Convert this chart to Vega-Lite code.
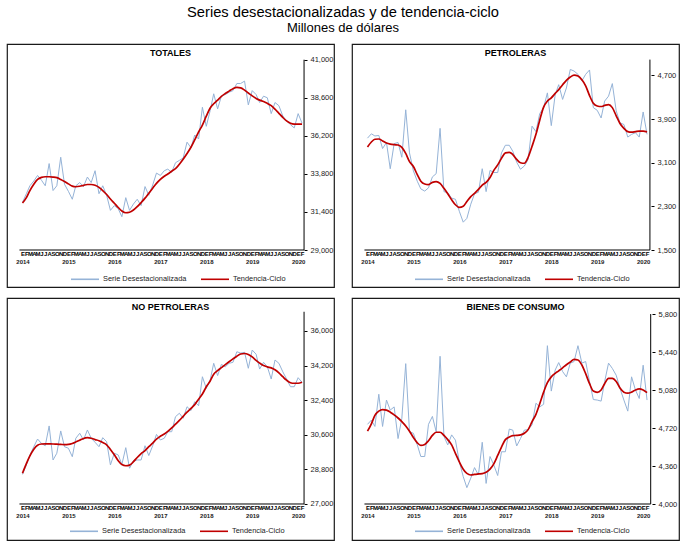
{
  "$schema": "https://vega.github.io/schema/vega-lite/v6.json",
  "padding": {"left": 6, "top": 4, "right": 0, "bottom": 0},
  "title": {
    "text": "Series desestacionalizadas y de tendencia-ciclo",
    "subtitle": "Millones de dólares",
    "font": "Liberation Sans",
    "subtitleFont": "Liberation Sans",
    "fontSize": 14.7,
    "subtitleFontSize": 13,
    "fontWeight": "normal",
    "color": "#000",
    "subtitleColor": "#000",
    "anchor": "middle",
    "subtitlePadding": 3,
    "offset": 8
  },
  "datasets": {
    "totales": [
      {"fecha": "2014-01", "desest": 32000, "tendencia": 31960},
      {"fecha": "2014-02", "desest": 32550, "tendencia": 32300},
      {"fecha": "2014-03", "desest": 33050, "tendencia": 32750},
      {"fecha": "2014-04", "desest": 33350, "tendencia": 33150},
      {"fecha": "2014-05", "desest": 33700, "tendencia": 33450},
      {"fecha": "2014-06", "desest": 33400, "tendencia": 33580},
      {"fecha": "2014-07", "desest": 33050, "tendencia": 33620},
      {"fecha": "2014-08", "desest": 34450, "tendencia": 33620},
      {"fecha": "2014-09", "desest": 32750, "tendencia": 33600},
      {"fecha": "2014-10", "desest": 33050, "tendencia": 33560},
      {"fecha": "2014-11", "desest": 34850, "tendencia": 33450},
      {"fecha": "2014-12", "desest": 33150, "tendencia": 33320},
      {"fecha": "2015-01", "desest": 32700, "tendencia": 33170},
      {"fecha": "2015-02", "desest": 32200, "tendencia": 33030},
      {"fecha": "2015-03", "desest": 33050, "tendencia": 32990},
      {"fecha": "2015-04", "desest": 33250, "tendencia": 33020},
      {"fecha": "2015-05", "desest": 33000, "tendencia": 33080},
      {"fecha": "2015-06", "desest": 33600, "tendencia": 33130},
      {"fecha": "2015-07", "desest": 33250, "tendencia": 33130},
      {"fecha": "2015-08", "desest": 34000, "tendencia": 33080},
      {"fecha": "2015-09", "desest": 32550, "tendencia": 32950},
      {"fecha": "2015-10", "desest": 33050, "tendencia": 32750},
      {"fecha": "2015-11", "desest": 32450, "tendencia": 32500},
      {"fecha": "2015-12", "desest": 31500, "tendencia": 32220},
      {"fecha": "2016-01", "desest": 31800, "tendencia": 31950},
      {"fecha": "2016-02", "desest": 31600, "tendencia": 31680},
      {"fecha": "2016-03", "desest": 31100, "tendencia": 31460},
      {"fecha": "2016-04", "desest": 32300, "tendencia": 31350},
      {"fecha": "2016-05", "desest": 31500, "tendencia": 31380},
      {"fecha": "2016-06", "desest": 31900, "tendencia": 31520},
      {"fecha": "2016-07", "desest": 32200, "tendencia": 31730},
      {"fecha": "2016-08", "desest": 31800, "tendencia": 31990},
      {"fecha": "2016-09", "desest": 33000, "tendencia": 32270},
      {"fecha": "2016-10", "desest": 32450, "tendencia": 32580},
      {"fecha": "2016-11", "desest": 33100, "tendencia": 32900},
      {"fecha": "2016-12", "desest": 33850, "tendencia": 33200},
      {"fecha": "2017-01", "desest": 33700, "tendencia": 33450},
      {"fecha": "2017-02", "desest": 34000, "tendencia": 33650},
      {"fecha": "2017-03", "desest": 34100, "tendencia": 33790},
      {"fecha": "2017-04", "desest": 33900, "tendencia": 33970},
      {"fecha": "2017-05", "desest": 34500, "tendencia": 34130},
      {"fecha": "2017-06", "desest": 34650, "tendencia": 34410},
      {"fecha": "2017-07", "desest": 34800, "tendencia": 34720},
      {"fecha": "2017-08", "desest": 35800, "tendencia": 35080},
      {"fecha": "2017-09", "desest": 35450, "tendencia": 35480},
      {"fecha": "2017-10", "desest": 36250, "tendencia": 35950},
      {"fecha": "2017-11", "desest": 36000, "tendencia": 36450},
      {"fecha": "2017-12", "desest": 38000, "tendencia": 36880},
      {"fecha": "2018-01", "desest": 36800, "tendencia": 37440},
      {"fecha": "2018-02", "desest": 37800, "tendencia": 37950},
      {"fecha": "2018-03", "desest": 38850, "tendencia": 38220},
      {"fecha": "2018-04", "desest": 37900, "tendencia": 38450},
      {"fecha": "2018-05", "desest": 38700, "tendencia": 38690},
      {"fecha": "2018-06", "desest": 38800, "tendencia": 38870},
      {"fecha": "2018-07", "desest": 38950, "tendencia": 39020},
      {"fecha": "2018-08", "desest": 39050, "tendencia": 39170},
      {"fecha": "2018-09", "desest": 39500, "tendencia": 39250},
      {"fecha": "2018-10", "desest": 39500, "tendencia": 39220},
      {"fecha": "2018-11", "desest": 39650, "tendencia": 39080},
      {"fecha": "2018-12", "desest": 38150, "tendencia": 38900},
      {"fecha": "2019-01", "desest": 39050, "tendencia": 38720},
      {"fecha": "2019-02", "desest": 38800, "tendencia": 38560},
      {"fecha": "2019-03", "desest": 38300, "tendencia": 38450},
      {"fecha": "2019-04", "desest": 38700, "tendencia": 38360},
      {"fecha": "2019-05", "desest": 38600, "tendencia": 38250},
      {"fecha": "2019-06", "desest": 37600, "tendencia": 38100},
      {"fecha": "2019-07", "desest": 38300, "tendencia": 37880},
      {"fecha": "2019-08", "desest": 38100, "tendencia": 37620},
      {"fecha": "2019-09", "desest": 37450, "tendencia": 37360},
      {"fecha": "2019-10", "desest": 37150, "tendencia": 37140},
      {"fecha": "2019-11", "desest": 36900, "tendencia": 36990},
      {"fecha": "2019-12", "desest": 36700, "tendencia": 36940},
      {"fecha": "2020-01", "desest": 37600, "tendencia": 36940},
      {"fecha": "2020-02", "desest": 37000, "tendencia": 36940}
    ],
    "petroleras": [
      {"fecha": "2014-01", "desest": 3550, "tendencia": 3390},
      {"fecha": "2014-02", "desest": 3630, "tendencia": 3480},
      {"fecha": "2014-03", "desest": 3590, "tendencia": 3530},
      {"fecha": "2014-04", "desest": 3600, "tendencia": 3535},
      {"fecha": "2014-05", "desest": 3360, "tendencia": 3500},
      {"fecha": "2014-06", "desest": 3470, "tendencia": 3460},
      {"fecha": "2014-07", "desest": 2990, "tendencia": 3440},
      {"fecha": "2014-08", "desest": 3450, "tendencia": 3430},
      {"fecha": "2014-09", "desest": 3470, "tendencia": 3425},
      {"fecha": "2014-10", "desest": 3200, "tendencia": 3380},
      {"fecha": "2014-11", "desest": 4070, "tendencia": 3270},
      {"fecha": "2014-12", "desest": 3280, "tendencia": 3120},
      {"fecha": "2015-01", "desest": 2950, "tendencia": 3030},
      {"fecha": "2015-02", "desest": 2760, "tendencia": 2880},
      {"fecha": "2015-03", "desest": 2620, "tendencia": 2760},
      {"fecha": "2015-04", "desest": 2580, "tendencia": 2710},
      {"fecha": "2015-05", "desest": 2640, "tendencia": 2700},
      {"fecha": "2015-06", "desest": 2840, "tendencia": 2740},
      {"fecha": "2015-07", "desest": 2900, "tendencia": 2755},
      {"fecha": "2015-08", "desest": 3730, "tendencia": 2720},
      {"fecha": "2015-09", "desest": 2570, "tendencia": 2630},
      {"fecha": "2015-10", "desest": 2550, "tendencia": 2530},
      {"fecha": "2015-11", "desest": 2450, "tendencia": 2420},
      {"fecha": "2015-12", "desest": 2430, "tendencia": 2330},
      {"fecha": "2016-01", "desest": 2210, "tendencia": 2280},
      {"fecha": "2016-02", "desest": 2010, "tendencia": 2300},
      {"fecha": "2016-03", "desest": 2080, "tendencia": 2390},
      {"fecha": "2016-04", "desest": 2340, "tendencia": 2480},
      {"fecha": "2016-05", "desest": 2530, "tendencia": 2540},
      {"fecha": "2016-06", "desest": 2560, "tendencia": 2610},
      {"fecha": "2016-07", "desest": 2990, "tendencia": 2690},
      {"fecha": "2016-08", "desest": 2570, "tendencia": 2740},
      {"fecha": "2016-09", "desest": 2960, "tendencia": 2830},
      {"fecha": "2016-10", "desest": 2920, "tendencia": 2960},
      {"fecha": "2016-11", "desest": 2920, "tendencia": 3060},
      {"fecha": "2016-12", "desest": 3280, "tendencia": 3180},
      {"fecha": "2017-01", "desest": 3420, "tendencia": 3280},
      {"fecha": "2017-02", "desest": 3420, "tendencia": 3290},
      {"fecha": "2017-03", "desest": 3310, "tendencia": 3250},
      {"fecha": "2017-04", "desest": 3110, "tendencia": 3160},
      {"fecha": "2017-05", "desest": 2980, "tendencia": 3100},
      {"fecha": "2017-06", "desest": 3040, "tendencia": 3090},
      {"fecha": "2017-07", "desest": 3160, "tendencia": 3200},
      {"fecha": "2017-08", "desest": 3770, "tendencia": 3400},
      {"fecha": "2017-09", "desest": 3670, "tendencia": 3620},
      {"fecha": "2017-10", "desest": 4000, "tendencia": 3880},
      {"fecha": "2017-11", "desest": 4110, "tendencia": 4120},
      {"fecha": "2017-12", "desest": 4380, "tendencia": 4230},
      {"fecha": "2018-01", "desest": 3780, "tendencia": 4290},
      {"fecha": "2018-02", "desest": 4350, "tendencia": 4370},
      {"fecha": "2018-03", "desest": 4530, "tendencia": 4440},
      {"fecha": "2018-04", "desest": 4260, "tendencia": 4530},
      {"fecha": "2018-05", "desest": 4470, "tendencia": 4610},
      {"fecha": "2018-06", "desest": 4810, "tendencia": 4670},
      {"fecha": "2018-07", "desest": 4780, "tendencia": 4705},
      {"fecha": "2018-08", "desest": 4720, "tendencia": 4690},
      {"fecha": "2018-09", "desest": 4600, "tendencia": 4620},
      {"fecha": "2018-10", "desest": 4720, "tendencia": 4510},
      {"fecha": "2018-11", "desest": 4800, "tendencia": 4330},
      {"fecha": "2018-12", "desest": 4110, "tendencia": 4190},
      {"fecha": "2019-01", "desest": 4060, "tendencia": 4140},
      {"fecha": "2019-02", "desest": 3920, "tendencia": 4130},
      {"fecha": "2019-03", "desest": 4230, "tendencia": 4150},
      {"fecha": "2019-04", "desest": 4320, "tendencia": 4165},
      {"fecha": "2019-05", "desest": 4550, "tendencia": 4110},
      {"fecha": "2019-06", "desest": 4050, "tendencia": 3960},
      {"fecha": "2019-07", "desest": 3830, "tendencia": 3820},
      {"fecha": "2019-08", "desest": 3800, "tendencia": 3730},
      {"fecha": "2019-09", "desest": 3570, "tendencia": 3670},
      {"fecha": "2019-10", "desest": 3620, "tendencia": 3660},
      {"fecha": "2019-11", "desest": 3650, "tendencia": 3670},
      {"fecha": "2019-12", "desest": 3570, "tendencia": 3680},
      {"fecha": "2020-01", "desest": 4030, "tendencia": 3680},
      {"fecha": "2020-02", "desest": 3620, "tendencia": 3665}
    ],
    "nopetroleras": [
      {"fecha": "2014-01", "desest": 28540, "tendencia": 28600},
      {"fecha": "2014-02", "desest": 29030, "tendencia": 29100},
      {"fecha": "2014-03", "desest": 29550, "tendencia": 29500},
      {"fecha": "2014-04", "desest": 29980, "tendencia": 29850},
      {"fecha": "2014-05", "desest": 30380, "tendencia": 30060},
      {"fecha": "2014-06", "desest": 30150, "tendencia": 30120},
      {"fecha": "2014-07", "desest": 30030, "tendencia": 30130},
      {"fecha": "2014-08", "desest": 31060, "tendencia": 30125},
      {"fecha": "2014-09", "desest": 29290, "tendencia": 30120},
      {"fecha": "2014-10", "desest": 29640, "tendencia": 30110},
      {"fecha": "2014-11", "desest": 30800, "tendencia": 30100},
      {"fecha": "2014-12", "desest": 29980, "tendencia": 30090},
      {"fecha": "2015-01", "desest": 29900, "tendencia": 30100},
      {"fecha": "2015-02", "desest": 29460, "tendencia": 30150},
      {"fecha": "2015-03", "desest": 30420, "tendencia": 30230},
      {"fecha": "2015-04", "desest": 30680, "tendencia": 30320},
      {"fecha": "2015-05", "desest": 30330, "tendencia": 30410},
      {"fecha": "2015-06", "desest": 30850, "tendencia": 30450},
      {"fecha": "2015-07", "desest": 30420, "tendencia": 30420},
      {"fecha": "2015-08", "desest": 30210, "tendencia": 30350},
      {"fecha": "2015-09", "desest": 29980, "tendencia": 30290},
      {"fecha": "2015-10", "desest": 30450, "tendencia": 30200},
      {"fecha": "2015-11", "desest": 30240, "tendencia": 30080},
      {"fecha": "2015-12", "desest": 29030, "tendencia": 29840},
      {"fecha": "2016-01", "desest": 29640, "tendencia": 29560},
      {"fecha": "2016-02", "desest": 29550, "tendencia": 29250},
      {"fecha": "2016-03", "desest": 29060, "tendencia": 29050},
      {"fecha": "2016-04", "desest": 29930, "tendencia": 28990},
      {"fecha": "2016-05", "desest": 28860, "tendencia": 29020},
      {"fecha": "2016-06", "desest": 29240, "tendencia": 29200},
      {"fecha": "2016-07", "desest": 29290, "tendencia": 29420},
      {"fecha": "2016-08", "desest": 29290, "tendencia": 29620},
      {"fecha": "2016-09", "desest": 30030, "tendencia": 29780},
      {"fecha": "2016-10", "desest": 29520, "tendencia": 29980},
      {"fecha": "2016-11", "desest": 30030, "tendencia": 30170},
      {"fecha": "2016-12", "desest": 30620, "tendencia": 30380},
      {"fecha": "2017-01", "desest": 30330, "tendencia": 30520},
      {"fecha": "2017-02", "desest": 30420, "tendencia": 30640},
      {"fecha": "2017-03", "desest": 30760, "tendencia": 30780},
      {"fecha": "2017-04", "desest": 30760, "tendencia": 30960},
      {"fecha": "2017-05", "desest": 31540, "tendencia": 31150},
      {"fecha": "2017-06", "desest": 31720, "tendencia": 31350},
      {"fecha": "2017-07", "desest": 31460, "tendencia": 31560},
      {"fecha": "2017-08", "desest": 32060, "tendencia": 31780},
      {"fecha": "2017-09", "desest": 31860, "tendencia": 31970},
      {"fecha": "2017-10", "desest": 32320, "tendencia": 32170},
      {"fecha": "2017-11", "desest": 32110, "tendencia": 32450},
      {"fecha": "2017-12", "desest": 33620, "tendencia": 32720},
      {"fecha": "2018-01", "desest": 33020, "tendencia": 33100},
      {"fecha": "2018-02", "desest": 33450, "tendencia": 33400},
      {"fecha": "2018-03", "desest": 34320, "tendencia": 33750},
      {"fecha": "2018-04", "desest": 33680, "tendencia": 33940},
      {"fecha": "2018-05", "desest": 34260, "tendencia": 34090},
      {"fecha": "2018-06", "desest": 34140, "tendencia": 34250},
      {"fecha": "2018-07", "desest": 34320, "tendencia": 34400},
      {"fecha": "2018-08", "desest": 34370, "tendencia": 34550},
      {"fecha": "2018-09", "desest": 34920, "tendencia": 34690},
      {"fecha": "2018-10", "desest": 34850, "tendencia": 34800},
      {"fecha": "2018-11", "desest": 34890, "tendencia": 34830},
      {"fecha": "2018-12", "desest": 34060, "tendencia": 34780},
      {"fecha": "2019-01", "desest": 35010, "tendencia": 34650},
      {"fecha": "2019-02", "desest": 34790, "tendencia": 34470},
      {"fecha": "2019-03", "desest": 34020, "tendencia": 34330},
      {"fecha": "2019-04", "desest": 34370, "tendencia": 34200},
      {"fecha": "2019-05", "desest": 34140, "tendencia": 34130},
      {"fecha": "2019-06", "desest": 33500, "tendencia": 34080},
      {"fecha": "2019-07", "desest": 34490, "tendencia": 33980},
      {"fecha": "2019-08", "desest": 34320, "tendencia": 33820},
      {"fecha": "2019-09", "desest": 33880, "tendencia": 33620},
      {"fecha": "2019-10", "desest": 33500, "tendencia": 33440},
      {"fecha": "2019-11", "desest": 33100, "tendencia": 33310},
      {"fecha": "2019-12", "desest": 33100, "tendencia": 33280},
      {"fecha": "2020-01", "desest": 33570, "tendencia": 33280},
      {"fecha": "2020-02", "desest": 33330, "tendencia": 33330}
    ],
    "bienes": [
      {"fecha": "2014-01", "desest": 4755, "tendencia": 4690},
      {"fecha": "2014-02", "desest": 4795, "tendencia": 4760},
      {"fecha": "2014-03", "desest": 4735, "tendencia": 4840},
      {"fecha": "2014-04", "desest": 5040, "tendencia": 4880},
      {"fecha": "2014-05", "desest": 4735, "tendencia": 4895},
      {"fecha": "2014-06", "desest": 4985, "tendencia": 4890},
      {"fecha": "2014-07", "desest": 4890, "tendencia": 4870},
      {"fecha": "2014-08", "desest": 4920, "tendencia": 4845},
      {"fecha": "2014-09", "desest": 4620, "tendencia": 4815},
      {"fecha": "2014-10", "desest": 4810, "tendencia": 4780},
      {"fecha": "2014-11", "desest": 5330, "tendencia": 4740},
      {"fecha": "2014-12", "desest": 4685, "tendencia": 4690},
      {"fecha": "2015-01", "desest": 4670, "tendencia": 4630},
      {"fecha": "2015-02", "desest": 4560, "tendencia": 4580},
      {"fecha": "2015-03", "desest": 4450, "tendencia": 4555},
      {"fecha": "2015-04", "desest": 4450, "tendencia": 4565},
      {"fecha": "2015-05", "desest": 4755, "tendencia": 4600},
      {"fecha": "2015-06", "desest": 4830, "tendencia": 4650},
      {"fecha": "2015-07", "desest": 4685, "tendencia": 4680},
      {"fecha": "2015-08", "desest": 5400, "tendencia": 4680},
      {"fecha": "2015-09", "desest": 4640, "tendencia": 4650},
      {"fecha": "2015-10", "desest": 4560, "tendencia": 4610},
      {"fecha": "2015-11", "desest": 4655, "tendencia": 4560},
      {"fecha": "2015-12", "desest": 4605, "tendencia": 4480},
      {"fecha": "2016-01", "desest": 4400, "tendencia": 4400},
      {"fecha": "2016-02", "desest": 4260, "tendencia": 4330},
      {"fecha": "2016-03", "desest": 4155, "tendencia": 4290},
      {"fecha": "2016-04", "desest": 4245, "tendencia": 4275},
      {"fecha": "2016-05", "desest": 4345, "tendencia": 4280},
      {"fecha": "2016-06", "desest": 4275, "tendencia": 4285},
      {"fecha": "2016-07", "desest": 4585, "tendencia": 4288},
      {"fecha": "2016-08", "desest": 4195, "tendencia": 4300},
      {"fecha": "2016-09", "desest": 4450, "tendencia": 4330},
      {"fecha": "2016-10", "desest": 4370, "tendencia": 4380},
      {"fecha": "2016-11", "desest": 4270, "tendencia": 4460},
      {"fecha": "2016-12", "desest": 4495, "tendencia": 4540},
      {"fecha": "2017-01", "desest": 4495, "tendencia": 4610},
      {"fecha": "2017-02", "desest": 4710, "tendencia": 4635},
      {"fecha": "2017-03", "desest": 4700, "tendencia": 4648},
      {"fecha": "2017-04", "desest": 4550, "tendencia": 4650},
      {"fecha": "2017-05", "desest": 4620, "tendencia": 4655},
      {"fecha": "2017-06", "desest": 4700, "tendencia": 4670},
      {"fecha": "2017-07", "desest": 4705, "tendencia": 4705},
      {"fecha": "2017-08", "desest": 4750, "tendencia": 4780},
      {"fecha": "2017-09", "desest": 4955, "tendencia": 4850},
      {"fecha": "2017-10", "desest": 4920, "tendencia": 4950},
      {"fecha": "2017-11", "desest": 4945, "tendencia": 5060},
      {"fecha": "2017-12", "desest": 5500, "tendencia": 5150},
      {"fecha": "2018-01", "desest": 5070, "tendencia": 5205},
      {"fecha": "2018-02", "desest": 5270, "tendencia": 5238},
      {"fecha": "2018-03", "desest": 5340, "tendencia": 5262},
      {"fecha": "2018-04", "desest": 5255, "tendencia": 5290},
      {"fecha": "2018-05", "desest": 5205, "tendencia": 5320},
      {"fecha": "2018-06", "desest": 5335, "tendencia": 5345},
      {"fecha": "2018-07", "desest": 5350, "tendencia": 5370},
      {"fecha": "2018-08", "desest": 5500, "tendencia": 5365},
      {"fecha": "2018-09", "desest": 5335, "tendencia": 5317},
      {"fecha": "2018-10", "desest": 5350, "tendencia": 5235},
      {"fecha": "2018-11", "desest": 5160, "tendencia": 5140},
      {"fecha": "2018-12", "desest": 4990, "tendencia": 5070},
      {"fecha": "2019-01", "desest": 4985, "tendencia": 5058},
      {"fecha": "2019-02", "desest": 4975, "tendencia": 5080},
      {"fecha": "2019-03", "desest": 5160, "tendencia": 5140},
      {"fecha": "2019-04", "desest": 5335, "tendencia": 5190},
      {"fecha": "2019-05", "desest": 5285, "tendencia": 5190},
      {"fecha": "2019-06", "desest": 5220, "tendencia": 5160},
      {"fecha": "2019-07", "desest": 5095, "tendencia": 5100},
      {"fecha": "2019-08", "desest": 4985, "tendencia": 5060},
      {"fecha": "2019-09", "desest": 4880, "tendencia": 5050},
      {"fecha": "2019-10", "desest": 5205, "tendencia": 5060},
      {"fecha": "2019-11", "desest": 5080, "tendencia": 5080},
      {"fecha": "2019-12", "desest": 5000, "tendencia": 5090},
      {"fecha": "2020-01", "desest": 5315, "tendencia": 5080},
      {"fecha": "2020-02", "desest": 4985, "tendencia": 5055}
    ]
  },
  "vconcat": [
    {
      "hconcat": [
        {
          "width": 327,
          "height": 243,
          "data": {"name": "totales"},
          "title": {"text": "TOTALES", "fontSize": 9, "fontWeight": "bold", "color": "#000", "offset": -14},
          "resolve": {"axis": {"x": "independent", "y": "independent"}},
          "layer": [
            {
              "mark": {"type": "line", "strokeWidth": 1},
              "encoding": {
                "x": {
                  "field": "fecha", "type": "temporal", "title": null,
                  "scale": {"domain": [{"year": 2013, "month": 8, "date": 31}, {"year": 2020, "month": 10, "date": 12}]},
                  "axis": {"orient": "bottom", "offset": -37, "tickCount": {"interval": "month", "step": 1}, "labelExpr": "datum.value < datetime(2013,11,15) || datum.value > datetime(2020,1,15) ? '' : ['E','F','M','A','M','J','J','A','S','O','N','D'][month(datum.value)]", "ticks": false, "domain": false, "grid": false, "labelFontSize": 6, "labelFontWeight": "bold", "labelPadding": 0, "labelColor": "#000", "labelOverlap": false, "labelFlush": false, "labelBound": false}
                },
                "y": {
                  "field": "desest", "type": "quantitative", "title": null,
                  "scale": {"domain": [26667, 41990], "nice": false, "zero": false},
                  "axis": {"orient": "right", "offset": -30, "values": [29000, 31400, 33800, 36200, 38600, 41000], "format": ",d", "grid": false, "domain": false, "tickSize": 3, "tickColor": "#000", "labelPadding": 3, "labelFontSize": 7.5, "labelColor": "#222"}
                },
                "color": {
                  "datum": "Serie Desestacionalizada", "type": "nominal",
                  "scale": {"domain": ["Serie Desestacionalizada", "Tendencia-Ciclo"], "range": ["#95b3d7", "#c00000"]},
                  "legend": {"orient": "none", "legendX": 63, "legendY": 220}
                }
              }
            },
            {
              "mark": {"type": "line", "strokeWidth": 1.7, "interpolate": "monotone"},
              "encoding": {
                "x": {
                  "field": "fecha", "type": "temporal", "title": null,
                  "axis": {"orient": "bottom", "offset": -37, "tickCount": {"interval": "year", "step": 1}, "format": "%Y", "ticks": false, "domain": false, "grid": false, "labelFontSize": 6, "labelFontWeight": "bold", "labelPadding": 8, "labelColor": "#222", "labelFlush": false}
                },
                "y": {"field": "tendencia", "type": "quantitative", "axis": null},
                "color": {"datum": "Tendencia-Ciclo", "type": "nominal"}
              }
            },
            {
              "data": {"values": [{}]},
              "mark": {"type": "rule", "color": "#000", "strokeWidth": 1},
              "encoding": {
                "x": {"datum": {"year": 2013, "month": 12, "date": 8}, "type": "temporal", "axis": null},
                "x2": {"datum": {"year": 2020, "month": 2, "date": 17}},
                "y": {"datum": 29000, "type": "quantitative", "axis": null}
              }
            },
            {
              "data": {"values": [{}]},
              "mark": {"type": "rule", "color": "#000", "strokeWidth": 1},
              "encoding": {
                "x": {"datum": {"year": 2020, "month": 2, "date": 17}, "type": "temporal", "axis": null},
                "y": {"datum": 29000, "type": "quantitative", "axis": null},
                "y2": {"datum": 41000}
              }
            }
          ]
        },
        {
          "width": 327,
          "height": 243,
          "data": {"name": "petroleras"},
          "title": {"text": "PETROLERAS", "fontSize": 9, "fontWeight": "bold", "color": "#000", "offset": -14},
          "resolve": {"axis": {"x": "independent", "y": "independent"}},
          "layer": [
            {
              "mark": {"type": "line", "strokeWidth": 1},
              "encoding": {
                "x": {
                  "field": "fecha", "type": "temporal", "title": null,
                  "scale": {"domain": [{"year": 2013, "month": 8, "date": 31}, {"year": 2020, "month": 10, "date": 12}]},
                  "axis": {"orient": "bottom", "offset": -37, "tickCount": {"interval": "month", "step": 1}, "labelExpr": "datum.value < datetime(2013,11,15) || datum.value > datetime(2020,1,15) ? '' : ['E','F','M','A','M','J','J','A','S','O','N','D'][month(datum.value)]", "ticks": false, "domain": false, "grid": false, "labelFontSize": 6, "labelFontWeight": "bold", "labelPadding": 0, "labelColor": "#000", "labelOverlap": false, "labelFlush": false, "labelBound": false}
                },
                "y": {
                  "field": "desest", "type": "quantitative", "title": null,
                  "scale": {"domain": [822, 5276], "nice": false, "zero": false},
                  "axis": {"orient": "right", "offset": -28, "values": [1500, 2300, 3100, 3900, 4700], "format": ",d", "grid": false, "domain": false, "tickSize": 3, "tickColor": "#000", "labelPadding": 3, "labelFontSize": 7.5, "labelColor": "#222"}
                },
                "color": {
                  "datum": "Serie Desestacionalizada", "type": "nominal",
                  "scale": {"domain": ["Serie Desestacionalizada", "Tendencia-Ciclo"], "range": ["#95b3d7", "#c00000"]},
                  "legend": {"orient": "none", "legendX": 62, "legendY": 220}
                }
              }
            },
            {
              "mark": {"type": "line", "strokeWidth": 1.7, "interpolate": "monotone"},
              "encoding": {
                "x": {
                  "field": "fecha", "type": "temporal", "title": null,
                  "axis": {"orient": "bottom", "offset": -37, "tickCount": {"interval": "year", "step": 1}, "format": "%Y", "ticks": false, "domain": false, "grid": false, "labelFontSize": 6, "labelFontWeight": "bold", "labelPadding": 8, "labelColor": "#222", "labelFlush": false}
                },
                "y": {"field": "tendencia", "type": "quantitative", "axis": null},
                "color": {"datum": "Tendencia-Ciclo", "type": "nominal"}
              }
            },
            {
              "data": {"values": [{}]},
              "mark": {"type": "rule", "color": "#000", "strokeWidth": 1},
              "encoding": {
                "x": {"datum": {"year": 2013, "month": 12, "date": 8}, "type": "temporal", "axis": null},
                "x2": {"datum": {"year": 2020, "month": 2, "date": 24}},
                "y": {"datum": 1500, "type": "quantitative", "axis": null}
              }
            },
            {
              "data": {"values": [{}]},
              "mark": {"type": "rule", "color": "#000", "strokeWidth": 1},
              "encoding": {
                "x": {"datum": {"year": 2020, "month": 2, "date": 24}, "type": "temporal", "axis": null},
                "y": {"datum": 1500, "type": "quantitative", "axis": null},
                "y2": {"datum": 4990}
              }
            }
          ]
        }
      ],
      "spacing": 16,
      "resolve": {"scale": {"color": "independent"}, "legend": {"color": "independent"}}
    },
    {
      "hconcat": [
        {
          "width": 327,
          "height": 242,
          "data": {"name": "nopetroleras"},
          "title": {"text": "NO PETROLERAS", "fontSize": 9, "fontWeight": "bold", "color": "#000", "offset": -14},
          "resolve": {"axis": {"x": "independent", "y": "independent"}},
          "layer": [
            {
              "mark": {"type": "line", "strokeWidth": 1},
              "encoding": {
                "x": {
                  "field": "fecha", "type": "temporal", "title": null,
                  "scale": {"domain": [{"year": 2013, "month": 8, "date": 31}, {"year": 2020, "month": 10, "date": 12}]},
                  "axis": {"orient": "bottom", "offset": -36, "tickCount": {"interval": "month", "step": 1}, "labelExpr": "datum.value < datetime(2013,11,15) || datum.value > datetime(2020,1,15) ? '' : ['E','F','M','A','M','J','J','A','S','O','N','D'][month(datum.value)]", "ticks": false, "domain": false, "grid": false, "labelFontSize": 6, "labelFontWeight": "bold", "labelPadding": 0, "labelColor": "#000", "labelOverlap": false, "labelFlush": false, "labelBound": false}
                },
                "y": {
                  "field": "desest", "type": "quantitative", "title": null,
                  "scale": {"domain": [25127, 37716], "nice": false, "zero": false},
                  "axis": {"orient": "right", "offset": -30, "values": [27000, 28800, 30600, 32400, 34200, 36000], "format": ",d", "grid": false, "domain": false, "tickSize": 3, "tickColor": "#000", "labelPadding": 3, "labelFontSize": 7.5, "labelColor": "#222"}
                },
                "color": {
                  "datum": "Serie Desestacionalizada", "type": "nominal",
                  "scale": {"domain": ["Serie Desestacionalizada", "Tendencia-Ciclo"], "range": ["#95b3d7", "#c00000"]},
                  "legend": {"orient": "none", "legendX": 62, "legendY": 218}
                }
              }
            },
            {
              "mark": {"type": "line", "strokeWidth": 1.7, "interpolate": "monotone"},
              "encoding": {
                "x": {
                  "field": "fecha", "type": "temporal", "title": null,
                  "axis": {"orient": "bottom", "offset": -36, "tickCount": {"interval": "year", "step": 1}, "format": "%Y", "ticks": false, "domain": false, "grid": false, "labelFontSize": 6, "labelFontWeight": "bold", "labelPadding": 8, "labelColor": "#222", "labelFlush": false}
                },
                "y": {"field": "tendencia", "type": "quantitative", "axis": null},
                "color": {"datum": "Tendencia-Ciclo", "type": "nominal"}
              }
            },
            {
              "data": {"values": [{}]},
              "mark": {"type": "rule", "color": "#000", "strokeWidth": 1},
              "encoding": {
                "x": {"datum": {"year": 2013, "month": 12, "date": 8}, "type": "temporal", "axis": null},
                "x2": {"datum": {"year": 2020, "month": 2, "date": 17}},
                "y": {"datum": 27000, "type": "quantitative", "axis": null}
              }
            },
            {
              "data": {"values": [{}]},
              "mark": {"type": "rule", "color": "#000", "strokeWidth": 1},
              "encoding": {
                "x": {"datum": {"year": 2020, "month": 2, "date": 17}, "type": "temporal", "axis": null},
                "y": {"datum": 27000, "type": "quantitative", "axis": null},
                "y2": {"datum": 37000}
              }
            }
          ]
        },
        {
          "width": 327,
          "height": 242,
          "data": {"name": "bienes"},
          "title": {"text": "BIENES DE CONSUMO", "fontSize": 9, "fontWeight": "bold", "color": "#000", "offset": -14},
          "resolve": {"axis": {"x": "independent", "y": "independent"}},
          "layer": [
            {
              "mark": {"type": "line", "strokeWidth": 1},
              "encoding": {
                "x": {
                  "field": "fecha", "type": "temporal", "title": null,
                  "scale": {"domain": [{"year": 2013, "month": 8, "date": 31}, {"year": 2020, "month": 10, "date": 12}]},
                  "axis": {"orient": "bottom", "offset": -36, "tickCount": {"interval": "month", "step": 1}, "labelExpr": "datum.value < datetime(2013,11,15) || datum.value > datetime(2020,1,15) ? '' : ['E','F','M','A','M','J','J','A','S','O','N','D'][month(datum.value)]", "ticks": false, "domain": false, "grid": false, "labelFontSize": 6, "labelFontWeight": "bold", "labelPadding": 0, "labelColor": "#000", "labelOverlap": false, "labelFlush": false, "labelBound": false}
                },
                "y": {
                  "field": "desest", "type": "quantitative", "title": null,
                  "scale": {"domain": [3659, 5952], "nice": false, "zero": false},
                  "axis": {"orient": "right", "offset": -27, "values": [4000, 4360, 4720, 5080, 5440, 5800], "format": ",d", "grid": false, "domain": false, "tickSize": 3, "tickColor": "#000", "labelPadding": 3, "labelFontSize": 7.5, "labelColor": "#222"}
                },
                "color": {
                  "datum": "Serie Desestacionalizada", "type": "nominal",
                  "scale": {"domain": ["Serie Desestacionalizada", "Tendencia-Ciclo"], "range": ["#95b3d7", "#c00000"]},
                  "legend": {"orient": "none", "legendX": 62, "legendY": 218}
                }
              }
            },
            {
              "mark": {"type": "line", "strokeWidth": 1.7, "interpolate": "monotone"},
              "encoding": {
                "x": {
                  "field": "fecha", "type": "temporal", "title": null,
                  "axis": {"orient": "bottom", "offset": -36, "tickCount": {"interval": "year", "step": 1}, "format": "%Y", "ticks": false, "domain": false, "grid": false, "labelFontSize": 6, "labelFontWeight": "bold", "labelPadding": 8, "labelColor": "#222", "labelFlush": false}
                },
                "y": {"field": "tendencia", "type": "quantitative", "axis": null},
                "color": {"datum": "Tendencia-Ciclo", "type": "nominal"}
              }
            },
            {
              "data": {"values": [{}]},
              "mark": {"type": "rule", "color": "#000", "strokeWidth": 1},
              "encoding": {
                "x": {"datum": {"year": 2013, "month": 12, "date": 8}, "type": "temporal", "axis": null},
                "x2": {"datum": {"year": 2020, "month": 3, "date": 1}},
                "y": {"datum": 4000, "type": "quantitative", "axis": null}
              }
            },
            {
              "data": {"values": [{}]},
              "mark": {"type": "rule", "color": "#000", "strokeWidth": 1},
              "encoding": {
                "x": {"datum": {"year": 2020, "month": 3, "date": 1}, "type": "temporal", "axis": null},
                "y": {"datum": 4000, "type": "quantitative", "axis": null},
                "y2": {"datum": 5800}
              }
            }
          ]
        }
      ],
      "spacing": 16,
      "resolve": {"scale": {"color": "independent"}, "legend": {"color": "independent"}}
    }
  ],
  "spacing": 9,
  "resolve": {"scale": {"color": "independent"}, "legend": {"color": "independent"}},
  "config": {
    "font": "Liberation Sans",
    "view": {"stroke": "#1a1a1a", "strokeWidth": 1.2},
    "axis": {"labelFont": "Liberation Sans"},
    "legend": {
      "title": null,
      "direction": "horizontal",
      "symbolType": "stroke",
      "symbolSize": 784,
      "symbolStrokeWidth": 1.6,
      "labelFont": "Liberation Sans",
      "labelFontSize": 7.4,
      "labelColor": "#222",
      "labelOffset": 3,
      "columnPadding": 10,
      "padding": 0
    }
  }
}
